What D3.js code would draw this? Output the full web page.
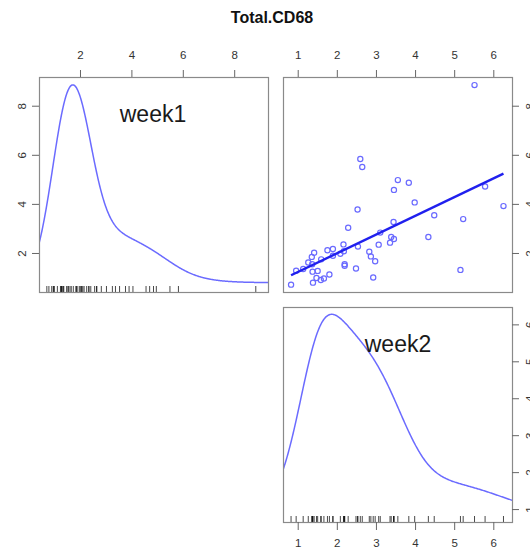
<!DOCTYPE html>
<html>
<head>
<meta charset="utf-8">
<script src="https://cdn.jsdelivr.net/npm/d3@7"></script>
<style>
  body { margin: 0; background: #fff; }
  text { font-family: "Liberation Sans", Arial, sans-serif; }
</style>
</head>
<body>
<svg id="chart" width="530" height="550"></svg>
<script>
// Paired observations: Total.CD68 at week 2 (x) and week 1 (y)
const week2 = [5.52, 2.60, 2.65, 3.56, 3.84, 3.46, 5.79, 3.99, 6.26, 2.53,
               4.49, 5.23, 3.45, 2.29, 4.34, 3.11, 3.39, 3.46, 3.36, 3.07,
               2.17, 2.54, 2.18, 2.09, 2.83, 2.87, 2.98, 1.90, 1.76, 1.90,
               1.42, 1.36, 1.60, 1.27, 1.37, 1.14, 0.96, 0.83, 1.38, 1.51,
               1.48, 1.39, 1.59, 1.67, 1.81, 2.20, 2.20, 2.49, 2.93, 5.16];
const week1 = [8.84, 5.83, 5.50, 4.97, 4.86, 4.57, 4.71, 4.06, 3.91, 3.77,
               3.54, 3.38, 3.26, 3.03, 2.65, 2.83, 2.65, 2.57, 2.42, 2.34,
               2.35, 2.26, 2.07, 1.97, 2.05, 1.86, 1.66, 2.16, 2.11, 1.89,
               2.01, 1.84, 1.74, 1.61, 1.54, 1.35, 1.28, 0.71, 1.24, 1.27,
               0.98, 0.79, 0.90, 0.96, 1.12, 1.54, 1.48, 1.37, 1.00, 1.31];

const title = "Total.CD68";
const varNames = ["week1", "week2"];
const week1Ticks = [2, 4, 6, 8];
const week2Ticks = [1, 2, 3, 4, 5, 6];

const svg = d3.select("#chart");

// Panel geometry (2 x 2 matrix, lower-left cell left empty)
const colX = [39, 283], rowY = [77, 307];
const pw = 229, ph = 215;

const x1 = d3.scaleLinear().domain([0.405, 9.315]).range([colX[0], colX[0] + pw]);
const y1 = d3.scaleLinear().domain([0.41, 9.17]).range([rowY[0] + ph, rowY[0]]);
const x2 = d3.scaleLinear().domain([0.624, 6.478]).range([colX[1], colX[1] + pw]);
const y2 = d3.scaleLinear().domain([0.65, 6.47]).range([rowY[1] + ph, rowY[1]]);

const boxColor = "#8a8a8a", tickColor = "#666", labelColor = "#333";
const densColor = "#6b6bff", pointColor = "#6a6aff", fitColor = "#2020ee";

// Title
svg.append("text")
  .attr("x", 272).attr("y", 23)
  .attr("text-anchor", "middle")
  .attr("font-size", 16).attr("font-weight", "bold")
  .attr("fill", "#111")
  .text(title);

// Clip paths for each panel
const defs = svg.append("defs");
function clip(id, x, y) {
  defs.append("clipPath").attr("id", id)
    .append("rect").attr("x", x).attr("y", y).attr("width", pw).attr("height", ph);
  return `url(#${id})`;
}
const clip11 = clip("p11", colX[0], rowY[0]);
const clip12 = clip("p12", colX[1], rowY[0]);
const clip22 = clip("p22", colX[1], rowY[1]);

// Adaptive Gaussian kernel density: pilot estimate with the nrd0 bandwidth,
// then per-observation bandwidths scaled by sqrt(geometric mean / pilot)
function adaptiveDensity(values) {
  const s = values.slice().sort(d3.ascending);
  const n = s.length;
  const sd = d3.deviation(s);
  const iqr = d3.quantile(s, 0.75) - d3.quantile(s, 0.25);
  const bw = 0.9 * Math.min(sd, iqr / 1.34) * Math.pow(n, -0.2);
  const gauss = u => Math.exp(-0.5 * u * u) / Math.sqrt(2 * Math.PI);
  const fixed = x => d3.mean(s, v => gauss((x - v) / bw) / bw);
  const pilot = s.map(fixed);
  const g = Math.exp(d3.mean(pilot, Math.log));
  const h = pilot.map(p => bw * Math.sqrt(g / p));
  const lo = s[0] - 3 * bw, hi = s[n - 1] + 3 * bw;
  const pts = [];
  for (let i = 0; i < 500; i++) {
    const x = lo + (hi - lo) * i / 499;
    let d = 0;
    s.forEach((v, j) => { d += gauss((x - v) / h[j]) / h[j]; });
    pts.push([x, d / n]);
  }
  // rescale the density onto the variable's own range
  const [vmin, vmax] = d3.extent(s);
  const [dmin, dmax] = d3.extent(pts, p => p[1]);
  return pts.map(([x, d]) => [x, vmin + d * (vmax - vmin) / (dmax - dmin)]);
}

// Diagonal panel: density curve, rug and variable name
function diagPanel(values, xs, ys, clipUrl, name, nameX, nameY) {
  const line = d3.line().x(p => xs(p[0])).y(p => ys(p[1]));
  svg.append("path")
    .attr("d", line(adaptiveDensity(values)))
    .attr("fill", "none").attr("stroke", densColor).attr("stroke-width", 1.5)
    .attr("clip-path", clipUrl);
  const bottom = ys.range()[0];
  svg.append("g").selectAll("line").data(values).join("line")
    .attr("x1", d => xs(d)).attr("x2", d => xs(d))
    .attr("y1", bottom - 6).attr("y2", bottom)
    .attr("stroke", "#000").attr("stroke-width", 0.9).attr("stroke-opacity", 0.8);
  svg.append("text")
    .attr("x", nameX).attr("y", nameY)
    .attr("text-anchor", "middle").attr("font-size", 23).attr("fill", "#1a1a1a")
    .text(name);
}

diagPanel(week1, x1, y1, clip11, varNames[0], 153, 122);
diagPanel(week2, x2, y2, clip22, varNames[1], 398, 352);

// Off-diagonal panel: scatter of week1 against week2 with least-squares line
const mx = d3.mean(week2), my = d3.mean(week1);
let sxy = 0, sxx = 0;
week2.forEach((x, i) => { sxy += (x - mx) * (week1[i] - my); sxx += (x - mx) * (x - mx); });
const slope = sxy / sxx, intercept = my - slope * mx;
const [xmin, xmax] = d3.extent(week2);

const scatter = svg.append("g").attr("clip-path", clip12);
scatter.selectAll("circle").data(week2).join("circle")
  .attr("cx", d => x2(d)).attr("cy", (d, i) => y1(week1[i]))
  .attr("r", 2.6)
  .attr("fill", "none").attr("stroke", pointColor).attr("stroke-width", 1.2);
scatter.append("line")
  .attr("x1", x2(xmin)).attr("y1", y1(intercept + slope * xmin))
  .attr("x2", x2(xmax)).attr("y2", y1(intercept + slope * xmax))
  .attr("stroke", fitColor).attr("stroke-width", 2.4);

// Panel boxes
[[colX[0], rowY[0]], [colX[1], rowY[0]], [colX[1], rowY[1]]].forEach(([x, y]) => {
  svg.append("rect")
    .attr("x", x + 0.5).attr("y", y + 0.5).attr("width", pw).attr("height", ph)
    .attr("fill", "none").attr("stroke", boxColor).attr("stroke-width", 1.2);
});

// Axes
function styleAxis(g) {
  g.select(".domain").remove();
  g.selectAll(".tick line").attr("stroke", tickColor).attr("stroke-width", 1);
  g.selectAll(".tick text").attr("fill", labelColor).attr("font-size", 11.5)
    .attr("font-family", "Liberation Sans, Arial, sans-serif");
}

svg.append("g").attr("transform", `translate(0,${rowY[0]})`)
  .call(d3.axisTop(x1).tickValues(week1Ticks).tickSize(7).tickPadding(11).tickFormat(d3.format("d")))
  .call(styleAxis);
svg.append("g").attr("transform", `translate(0,${rowY[0]})`)
  .call(d3.axisTop(x2).tickValues(week2Ticks).tickSize(7).tickPadding(11).tickFormat(d3.format("d")))
  .call(styleAxis);
svg.append("g").attr("transform", `translate(0,${rowY[1] + ph})`)
  .call(d3.axisBottom(x2).tickValues(week2Ticks).tickSize(8).tickPadding(9).tickFormat(d3.format("d")))
  .call(styleAxis);

function sideAxis(axis, x, offset) {
  svg.append("g").attr("transform", `translate(${x},0)`)
    .call(axis.tickSize(7).tickFormat(d3.format("d")))
    .call(styleAxis)
    .call(g => g.selectAll(".tick text")
      .attr("x", null).attr("dy", "0.35em")
      .attr("text-anchor", "middle")
      .attr("transform", `translate(${offset},0) rotate(-90)`));
}
sideAxis(d3.axisLeft(y1).tickValues(week1Ticks), colX[0], -17);
sideAxis(d3.axisRight(y1).tickValues(week1Ticks), colX[1] + pw, 18);
sideAxis(d3.axisRight(y2).tickValues(week2Ticks), colX[1] + pw, 18);
</script>
</body>
</html>
